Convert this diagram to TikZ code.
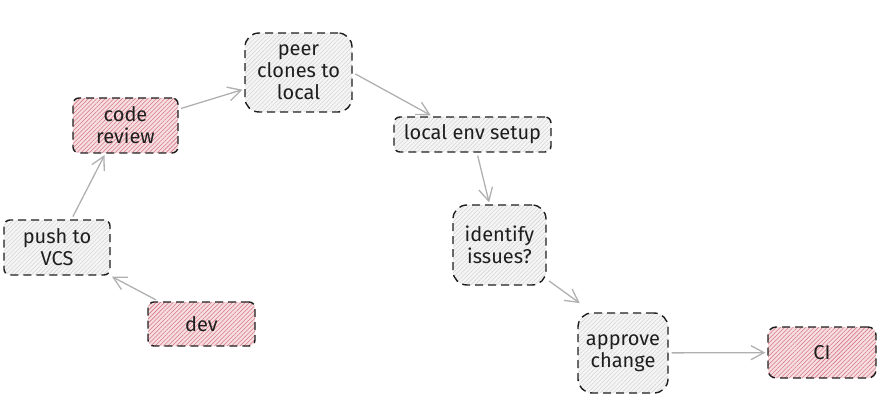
\documentclass[tikz,border=0pt]{standalone}
\usepackage{fontspec}
\setmainfont{Fira Sans}
\usetikzlibrary{patterns.meta,arrows.meta}

\definecolor{redfill}{HTML}{F6DFE2}
\definecolor{redhatch}{HTML}{D97480}
\definecolor{grayfill}{HTML}{F5F5F5}
\definecolor{grayhatch}{HTML}{D6D6D6}
\definecolor{linkgray}{HTML}{B0B0B0}
\definecolor{ink}{HTML}{1E1E1E}

\tikzset{
  box/.style={draw=ink, line width=1.4pt, dash pattern=on 8pt off 5pt,
    align=center, inner sep=0pt, text=ink,
    font=\fontsize{20}{22}\selectfont},
  hotbox/.style={box, preaction={fill=redfill},
    pattern={Lines[angle=45,distance=3pt,line width=0.55pt]},
    pattern color=redhatch},
  coldbox/.style={box, preaction={fill=grayfill},
    pattern={Lines[angle=45,distance=3pt,line width=0.55pt]},
    pattern color=grayhatch},
  link/.style={draw=linkgray, line width=1.3pt,
    -{Straight Barb[length=13pt,width=14pt]},
    shorten <=3pt, shorten >=2pt}
}

\begin{document}
\begin{tikzpicture}[x=1pt,y=-1pt]
  \useasboundingbox (0,0) rectangle (877,395);

  % steps of the review flow
  \node[hotbox, minimum width=105pt, minimum height=55pt, rounded corners=6pt]
    (review) at (125.5,125.5) {code\\review};
  \node[coldbox, minimum width=107pt, minimum height=79pt, rounded corners=14pt]
    (peer) at (298.5,72.5) {peer\\clones to\\local};
  \node[coldbox, minimum width=157pt, minimum height=35pt, rounded corners=6pt]
    (localenv) at (472.5,134.5) {local env setup};
  \node[coldbox, minimum width=93pt, minimum height=80pt, rounded corners=14pt]
    (identify) at (499.5,245) {identify\\issues?};
  \node[coldbox, minimum width=90pt, minimum height=80pt, rounded corners=14pt]
    (approve) at (623,353) {approve\\change};
  \node[hotbox, minimum width=108pt, minimum height=51pt, rounded corners=8pt]
    (ci) at (822,352.5) {CI};
  \node[coldbox, minimum width=106pt, minimum height=55pt, rounded corners=6pt]
    (push) at (57,247.5) {push to\\VCS};
  \node[hotbox, minimum width=107pt, minimum height=44pt, rounded corners=6pt]
    (dev) at (201.5,324) {dev};

  % connectors
  \draw[link] (dev) -- (push);
  \draw[link] (push) -- ([xshift=-20pt]review.south);
  \draw[link] (review) -- (peer);
  \draw[link] (peer.east) -- ([xshift=-40pt]localenv.north);
  \draw[link] (localenv) -- (identify);
  \draw[link] (identify) -- ([xshift=4pt,yshift=8pt]approve.north west);
  \draw[link] (approve) -- (ci);
\end{tikzpicture}
\end{document}
